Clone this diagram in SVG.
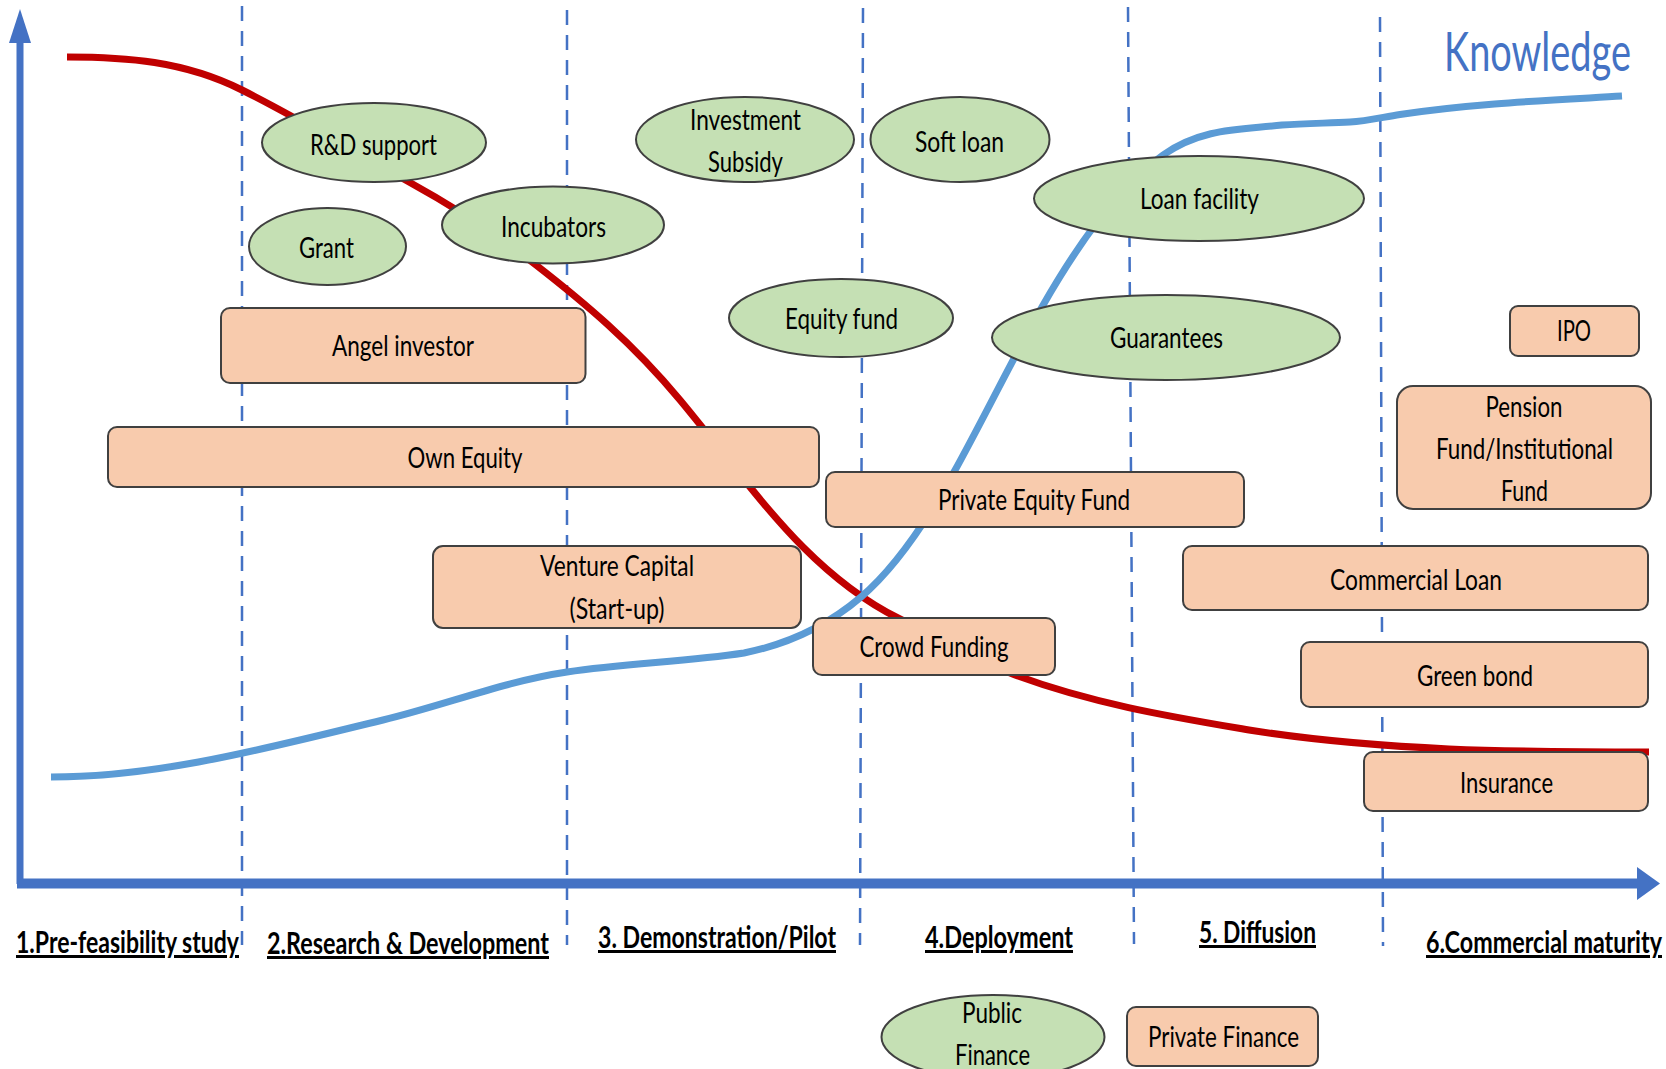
<svg xmlns="http://www.w3.org/2000/svg" width="1666" height="1069" viewBox="0 0 1666 1069">
<style>
.ell{fill:#C5E0B4;stroke:#404040;stroke-width:2}
.box{fill:#F8CBAD;stroke:#404040;stroke-width:2}
.t{font-family:Lato,'Liberation Sans',sans-serif;font-size:28px;fill:#000;text-anchor:middle}
.stage{font-family:Lato,'Liberation Sans',sans-serif;font-size:30px;font-weight:bold;fill:#000;text-decoration:underline}
.dash{stroke:#4472C4;stroke-width:2.5;stroke-dasharray:15 10;fill:none}
.axis{stroke:#4472C4;fill:none}
.curve{fill:none;stroke-width:7;stroke-linecap:butt}
</style>
<rect width="1666" height="1069" fill="#fff"/>
<g id="stage-dividers">
<line class="dash" x1="242" y1="6" x2="242" y2="945"/>
<line class="dash" x1="567" y1="10" x2="567" y2="945"/>
<line class="dash" x1="863" y1="8" x2="860" y2="945"/>
<line class="dash" x1="1128" y1="7" x2="1134" y2="944"/>
<line class="dash" x1="1380" y1="17" x2="1383" y2="946"/>
</g>
<g id="connectors">
<path id="cost-curve" class="curve" stroke="#C00000" d="M67 57 C125.3 57 183.7 60.8 242 90 C297.7 117.8 353.3 151.4 409 182 C451.3 205.3 493.7 232 536 265 C584 302.4 632 342.4 680 400 C721 449.2 762 506 803 547 C834.7 578.7 866.3 602.2 898 618 C937 637.5 976 660.6 1015 675 C1093 703.9 1171 716.7 1249 730 C1382 751 1516 752 1649 752"/>
<path id="knowledge-curve" class="curve" stroke="#5B9BD5" d="M51 777 C161.7 777 272.3 746.6 383 720 C444.3 705.3 505.7 681 567 672 C626 663.1 685 661.9 744 653 C783 645.2 822 630.2 861 597 C892 570.6 923 527.8 954 472 C983.3 419.2 1012.7 358.3 1042 307 C1082.3 236.4 1122.7 183.2 1163 155 C1202.7 127.2 1242.3 129.8 1282 125 C1304.7 123.6 1327.3 123.1 1350 122 C1366.7 121.2 1383.3 117 1400 114.5 C1474 103.4 1548 100.4 1622 96"/>
</g>
<g id="axes">
<line class="axis" stroke-width="7" x1="20" y1="38" x2="20" y2="884"/>
<polygon points="20,9 9,43 31,43" fill="#4472C4"/>
<line class="axis" stroke-width="10" x1="17" y1="883.5" x2="1640" y2="883.5"/>
<polygon points="1660,883.5 1637,867 1637,900" fill="#4472C4"/>
</g>
<text id="knowledge-label" x="1537.5" y="71" font-family="Lato,'Liberation Sans',sans-serif" font-size="54" fill="#4472C4" text-anchor="middle" textLength="187" lengthAdjust="spacingAndGlyphs">Knowledge</text>
<g id="rd-support"><ellipse class="ell" cx="374" cy="142.5" rx="112" ry="39.5"/><text class="t" x="373.5" y="155" textLength="127" lengthAdjust="spacingAndGlyphs">R&amp;D support</text></g>
<g id="grant"><ellipse class="ell" cx="327.5" cy="246.5" rx="78.5" ry="38.5"/><text class="t" x="326.5" y="258" textLength="55" lengthAdjust="spacingAndGlyphs">Grant</text></g>
<g id="incubators"><ellipse class="ell" cx="553" cy="225" rx="111" ry="38.5"/><text class="t" x="553.5" y="237" textLength="105" lengthAdjust="spacingAndGlyphs">Incubators</text></g>
<g id="investment-subsidy"><ellipse class="ell" cx="745" cy="139.5" rx="109" ry="42.5"/><text class="t" x="745.5" y="130" textLength="111" lengthAdjust="spacingAndGlyphs">Investment</text><text class="t" x="745.5" y="172" textLength="75" lengthAdjust="spacingAndGlyphs">Subsidy</text></g>
<g id="soft-loan"><ellipse class="ell" cx="960" cy="139.5" rx="89.5" ry="42.5"/><text class="t" x="959.5" y="152" textLength="89" lengthAdjust="spacingAndGlyphs">Soft loan</text></g>
<g id="loan-facility"><ellipse class="ell" cx="1199" cy="198.5" rx="165" ry="42.5"/><text class="t" x="1199.5" y="209" textLength="119" lengthAdjust="spacingAndGlyphs">Loan facility</text></g>
<g id="equity-fund"><ellipse class="ell" cx="841" cy="318" rx="112" ry="39"/><text class="t" x="841.5" y="329" textLength="113" lengthAdjust="spacingAndGlyphs">Equity fund</text></g>
<g id="guarantees"><ellipse class="ell" cx="1166" cy="337.5" rx="174" ry="42.5"/><text class="t" x="1166.5" y="348" textLength="113" lengthAdjust="spacingAndGlyphs">Guarantees</text></g>
<g id="angel-investor"><rect class="box" x="221" y="308" width="364.5" height="75" rx="9"/><text class="t" x="403" y="356" textLength="142" lengthAdjust="spacingAndGlyphs">Angel investor</text></g>
<g id="own-equity"><rect class="box" x="108" y="427" width="711" height="60" rx="9"/><text class="t" x="465" y="468" textLength="115" lengthAdjust="spacingAndGlyphs">Own Equity</text></g>
<g id="venture-capital"><rect class="box" x="433" y="546" width="368" height="82" rx="10"/><text class="t" x="617" y="576" textLength="154" lengthAdjust="spacingAndGlyphs">Venture Capital</text><text class="t" x="617" y="619" textLength="95" lengthAdjust="spacingAndGlyphs">(Start-up)</text></g>
<g id="private-equity-fund"><rect class="box" x="826" y="472" width="418" height="55" rx="9"/><text class="t" x="1034" y="510" textLength="192" lengthAdjust="spacingAndGlyphs">Private Equity Fund</text></g>
<g id="crowd-funding"><rect class="box" x="813" y="618" width="242" height="57" rx="9"/><text class="t" x="934" y="657" textLength="149" lengthAdjust="spacingAndGlyphs">Crowd Funding</text></g>
<g id="commercial-loan"><rect class="box" x="1183" y="546" width="465" height="64" rx="9"/><text class="t" x="1416" y="590" textLength="172" lengthAdjust="spacingAndGlyphs">Commercial Loan</text></g>
<g id="green-bond"><rect class="box" x="1301" y="642" width="347" height="65" rx="9"/><text class="t" x="1475" y="686" textLength="116" lengthAdjust="spacingAndGlyphs">Green bond</text></g>
<g id="insurance"><rect class="box" x="1364" y="752" width="284" height="59" rx="9"/><text class="t" x="1506.5" y="793" textLength="93" lengthAdjust="spacingAndGlyphs">Insurance</text></g>
<g id="ipo"><rect class="box" x="1510" y="306" width="129" height="50" rx="8"/><text class="t" x="1574" y="341" textLength="34" lengthAdjust="spacingAndGlyphs">IPO</text></g>
<g id="pension-fund"><rect class="box" x="1397" y="386" width="254" height="123" rx="16"/><text class="t" x="1524" y="417" textLength="77" lengthAdjust="spacingAndGlyphs">Pension</text><text class="t" x="1524.5" y="459" textLength="177" lengthAdjust="spacingAndGlyphs">Fund/Institutional</text><text class="t" x="1524.5" y="501" textLength="47" lengthAdjust="spacingAndGlyphs">Fund</text></g>
<g id="stage-labels">
<text class="stage" x="16" y="953" textLength="223" lengthAdjust="spacingAndGlyphs">1.Pre-feasibility study</text>
<text class="stage" x="267" y="954" textLength="282" lengthAdjust="spacingAndGlyphs">2.Research &amp; Development</text>
<text class="stage" x="598" y="948" textLength="238" lengthAdjust="spacingAndGlyphs">3. Demonstration/Pilot</text>
<text class="stage" x="925" y="948" textLength="148" lengthAdjust="spacingAndGlyphs">4.Deployment</text>
<text class="stage" x="1199" y="943" textLength="117" lengthAdjust="spacingAndGlyphs">5. Diffusion</text>
<text class="stage" x="1426" y="953" textLength="236" lengthAdjust="spacingAndGlyphs">6.Commercial maturity</text>
</g>
<g id="legend-public-finance"><ellipse class="ell" cx="993" cy="1037" rx="111.5" ry="42"/><text class="t" x="992" y="1023" textLength="60" lengthAdjust="spacingAndGlyphs">Public</text><text class="t" x="992.5" y="1065" textLength="75" lengthAdjust="spacingAndGlyphs">Finance</text></g>
<g id="legend-private-finance"><rect class="box" x="1127" y="1007" width="191" height="59" rx="9"/><text class="t" x="1223.5" y="1047" textLength="151" lengthAdjust="spacingAndGlyphs">Private Finance</text></g>
</svg>
